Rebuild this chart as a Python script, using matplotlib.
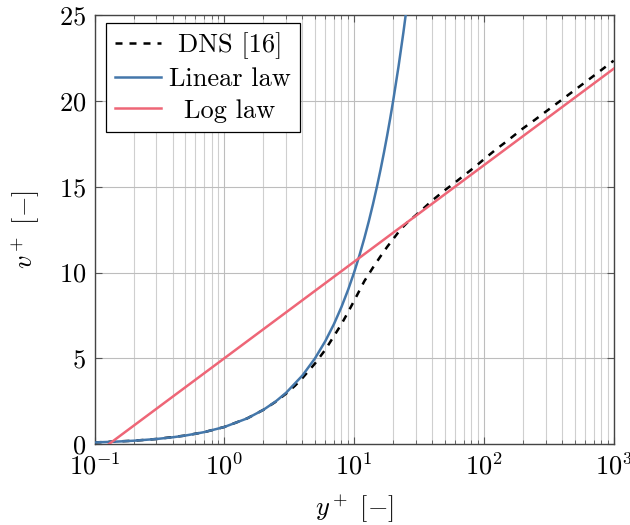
import matplotlib
matplotlib.use('Agg')
import matplotlib.pyplot as plt

# values
dns_y = [0.1, 0.2, 0.3, 0.5, 0.7, 1, 1.5, 2, 2.5, 3, 3.5, 4, 4.5, 5, 6, 7, 8, 9, 10, 11, 12, 14, 16, 18, 20,
         23, 26, 30, 35, 40, 50, 60, 70, 85, 100, 125, 150, 200, 250, 300, 400, 500, 700, 1000]
dns_v = [0.1, 0.2, 0.3, 0.5, 0.7, 1.0, 1.5, 2.0, 2.48, 2.95, 3.4, 3.85, 4.3, 4.7, 5.5, 6.3, 7.0, 7.7, 8.35, 8.95,
         9.5, 10.3, 10.95, 11.5, 11.95, 12.55, 12.95, 13.35, 13.8, 14.2, 14.8, 15.25, 15.65, 16.15, 16.6, 17.2,
         17.65, 18.4, 18.93, 19.38, 20.08, 20.63, 21.46, 22.35]

lin_y = [0.1, 0.15, 0.2, 0.3, 0.4, 0.5, 0.7, 1, 1.5, 2, 2.5, 3, 4, 5, 6, 7, 8, 9, 10, 11, 12, 13, 14, 15,
         16, 17, 18, 19, 20, 22, 24, 26]
lin_v = [0.1, 0.15, 0.2, 0.3, 0.4, 0.5, 0.7, 1, 1.5, 2, 2.5, 3, 4, 5, 6, 7, 8, 9, 10, 11, 12, 13, 14, 15,
         16, 17, 18, 19, 20, 22, 24, 26]

log_y = [0.129, 1000]
log_v = [0.0, 21.88]

FS = 19
plt.rcParams['font.family'] = 'serif'
plt.rcParams['font.serif'] = ['cmr10', 'DejaVu Serif']
plt.rcParams['mathtext.fontset'] = 'cm'
plt.rcParams['axes.formatter.use_mathtext'] = True
plt.rcParams['font.size'] = FS

fig = plt.figure(figsize=(6.3, 5.25), dpi=100)
ax = fig.add_axes([0.15, 0.154, 0.824, 0.817])

ax.plot(dns_y, dns_v, color='black', ls=(0, (2.8, 2.8)), lw=1.8, label='DNS [16]', zorder=3)
ax.plot(lin_y, lin_v, color='#4477AA', lw=1.8, label='Linear law', zorder=4)
ax.plot(log_y, log_v, color='#EE6677', lw=1.8, label='Log law', zorder=4)

ax.set_xscale('log')
ax.set_xlim(0.1, 1000)
ax.set_ylim(0, 25)
ax.set_yticks([0, 5, 10, 15, 20, 25])
ax.grid(True, which='major', color='#bdbdbd', lw=0.8)
ax.grid(True, which='minor', axis='x', color='#cfcfcf', lw=0.8)
ax.tick_params(which='both', direction='in', top=True, right=True, color='#555555')
ax.tick_params(which='major', length=5, labelsize=FS, pad=6)
ax.tick_params(which='minor', length=3)
for s in ax.spines.values():
    s.set_color('#444444')
    s.set_linewidth(1.0)

ax.set_xlabel(r'$y^+\ [-]$', fontsize=FS, labelpad=10)
ax.set_ylabel(r'$v^+\ [-]$', fontsize=FS, labelpad=12)

leg = ax.legend(loc='upper left', bbox_to_anchor=(0.0216, 0.981), borderaxespad=0, fancybox=False,
                edgecolor='black', framealpha=1, handlelength=1.75, handletextpad=0.3,
                labelspacing=0.3, borderpad=0.35)
leg.get_frame().set_linewidth(0.9)

# center legend texts like pgfplots does
fig.canvas.draw()
r = fig.canvas.get_renderer()
ws = [t.get_window_extent(r).width for t in leg.get_texts()]
for t, w in zip(leg.get_texts(), ws):
    t.set_x((max(ws) - w) / 2)

fig.savefig('out.png', dpi=100)
